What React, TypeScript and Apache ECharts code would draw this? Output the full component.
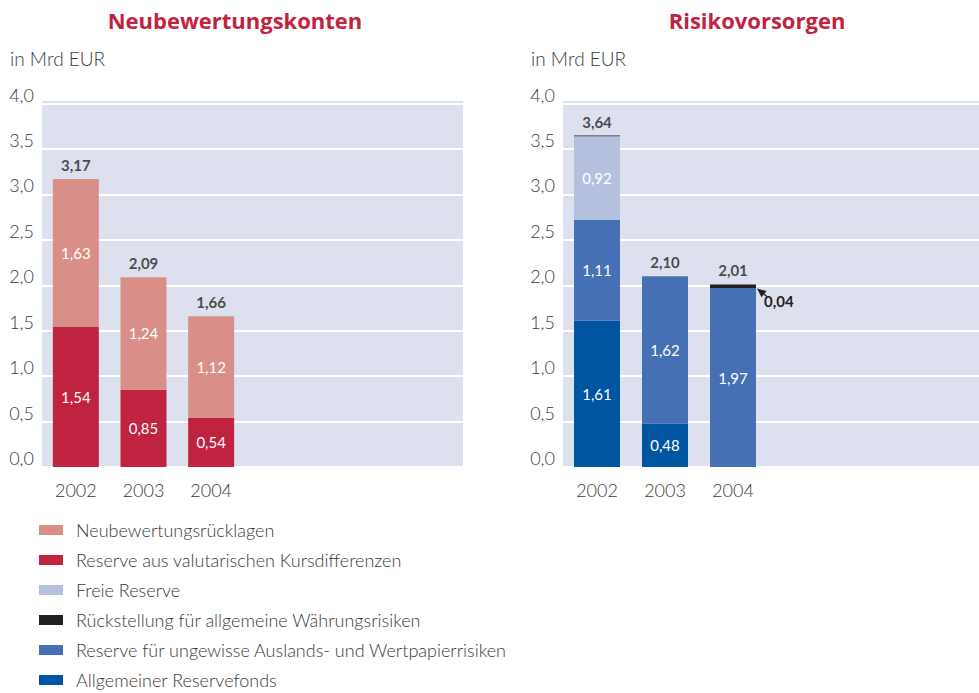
import React, { useEffect, useRef } from "react";
import * as echarts from "echarts";

const years = ["2002", "2003", "2004"];
// Neubewertungskonten
const valutarisch = [1.54, 0.85, 0.54];
const neubewertung = [1.63, 1.24, 1.12];
const totalsLeft = [3.17, 2.09, 1.66];
// Risikovorsorgen
const allgemein = [1.61, 0.48, 0];
const ungewisse = [1.11, 1.62, 1.97];
const freie = [0.92, 0, 0];
const rueckstellung = [0.01, 0, 0.04];
const totalsRight = [3.64, 2.1, 2.01];
// empty slots to the right of the bars
const emptySlots = ["", "", ""];

const C = {
  neu: "#d98f87",
  val: "#c0233f",
  freie: "#b5c0df",
  rueck: "#231f20",
  ungew: "#4570b3",
  allg: "#0055a1",
  bg: "#dde1ef",
  title: "#c1233f",
  text: "#3a3a3a",
};

const FONT = "Lato";
const fmt = (v: number) => v.toFixed(2).replace(".", ",");

export default function App() {
  const ref = useRef<HTMLDivElement>(null);
  useEffect(() => {
    if (!ref.current) return;
    const chart = echarts.init(ref.current, null, { renderer: "svg" });

    const Y_MAX = 4.04;
    const bgX = (gridIndex: number) => ({ type: "value", gridIndex, show: false, min: 0, max: 1 });
    const bgY = (gridIndex: number) => ({
      type: "value",
      gridIndex,
      min: 0,
      max: Y_MAX,
      interval: 0.5,
      axisLine: { show: false },
      axisTick: { show: false },
      splitLine: { show: true, lineStyle: { color: "#ffffff", width: 2 } },
      axisLabel: {
        margin: 8,
        fontFamily: FONT,
        fontWeight: 300,
        fontSize: 18,
        lineHeight: 18,
        color: C.text,
        verticalAlign: "bottom",
        formatter: (v: number) =>
          Math.abs(v * 2 - Math.round(v * 2)) < 1e-6 ? v.toFixed(1).replace(".", ",") : "",
      },
    });
    const barX = (gridIndex: number) => ({
      type: "category",
      gridIndex,
      data: [...years, ...emptySlots],
      axisLine: { show: false },
      axisTick: { show: false },
      splitLine: { show: false },
      axisLabel: {
        margin: 14,
        fontFamily: FONT,
        fontWeight: 300,
        fontSize: 18,
        color: C.text,
        interval: 0,
      },
    });
    const barY = (gridIndex: number) => ({
      type: "value",
      gridIndex,
      show: false,
      min: 0,
      max: Y_MAX,
      splitLine: { show: false },
    });

    const inside = {
      show: true,
      position: "inside",
      color: "#ffffff",
      fontFamily: FONT,
      fontSize: 15,
      formatter: (p: any) => (p.value > 0.05 ? fmt(p.value) : ""),
    };

    const bar = (name: string, vals: number[], color: string, idx: number, stack: string, label: any = inside) => ({
      type: "bar",
      name,
      xAxisIndex: idx,
      yAxisIndex: idx,
      stack,
      barWidth: 46,
      itemStyle: { color },
      label,
      emphasis: { disabled: true },
      data: vals.slice(),
    });

    const totals = (vals: number[], idx: number) => ({
      type: "scatter",
      xAxisIndex: idx,
      yAxisIndex: idx,
      symbolSize: 1,
      silent: true,
      itemStyle: { color: "transparent" },
      label: {
        show: true,
        position: "top",
        distance: 6,
        color: C.rueck,
        fontFamily: FONT,
        fontWeight: "bold",
        fontSize: 15,
        formatter: (p: any) => fmt(p.value),
      },
      data: vals.slice(),
    });

    const rueckSeries: any = bar("Rückstellung für allgemeine Währungsrisiken", rueckstellung, C.rueck, 3, "R", { show: false });
    rueckSeries.data = rueckstellung.map((v, i) =>
      i === 2
        ? {
            value: v,
            label: {
              show: true,
              position: [54, 9],
              color: C.rueck,
              fontFamily: FONT,
              fontWeight: "bold",
              fontSize: 15,
              formatter: fmt(v),
            },
          }
        : v
    );

    const option: any = {
      animation: false,
      grid: [
        { left: 42, right: 516, top: 100, bottom: 226, show: true, backgroundColor: C.bg, borderWidth: 0 },
        { left: 42, right: 531, top: 100, bottom: 226 },
        { left: 563, right: 0, top: 100, bottom: 226, show: true, backgroundColor: C.bg, borderWidth: 0 },
        { left: 563, right: 8, top: 100, bottom: 226 },
      ],
      xAxis: [bgX(0), barX(1), bgX(2), barX(3)],
      yAxis: [bgY(0), barY(1), bgY(2), barY(3)],
      legend: {
        orient: "vertical",
        left: 39,
        top: 520,
        padding: 0,
        itemWidth: 24,
        itemHeight: 10,
        itemGap: 10,
        icon: "rect",
        selectedMode: false,
        textStyle: {
          fontFamily: FONT,
          fontWeight: 300,
          fontSize: 18,
          lineHeight: 20,
          color: C.text,
          padding: [0, 0, 0, 8],
        },
        data: [
          "Neubewertungsrücklagen",
          "Reserve aus valutarischen Kursdifferenzen",
          "Freie Reserve",
          "Rückstellung für allgemeine Währungsrisiken",
          "Reserve für ungewisse Auslands- und Wertpapierrisiken",
          "Allgemeiner Reservefonds",
        ],
      },
      series: [
        bar("Reserve aus valutarischen Kursdifferenzen", valutarisch, C.val, 1, "L"),
        bar("Neubewertungsrücklagen", neubewertung, C.neu, 1, "L"),
        totals(totalsLeft, 1),
        bar("Allgemeiner Reservefonds", allgemein, C.allg, 3, "R"),
        bar("Reserve für ungewisse Auslands- und Wertpapierrisiken", ungewisse, C.ungew, 3, "R"),
        bar("Freie Reserve", freie, C.freie, 3, "R"),
        rueckSeries,
        totals(totalsRight, 3),
      ],
    };
    chart.setOption(option);

    // annotation arrow for the small 2004 value
    const top = ungewisse[2] + allgemein[2] + freie[2];
    const p = chart.convertToPixel({ xAxisIndex: 3, yAxisIndex: 3 }, [2, top]) as number[];
    const tip = [p[0] + 24, p[1] + 0.5];
    const tail = [tip[0] + 10, tip[1] + 8];
    const dx = tail[0] - tip[0], dy = tail[1] - tip[1];
    const len = Math.hypot(dx, dy);
    const ux = dx / len, uy = dy / len;
    const base = [tip[0] + ux * 9, tip[1] + uy * 9];
    const px = -uy, py = ux;

    const titleStyle = { fill: C.title, fontFamily: "Open Sans", fontWeight: "bold", fontSize: 22, align: "center", verticalAlign: "middle" };
    const unitStyle = { fill: C.text, fontFamily: FONT, fontWeight: 300, fontSize: 19, align: "left", verticalAlign: "middle" };
    chart.setOption({
      graphic: [
        { id: "t1", type: "text", x: 235, y: 20, style: { ...titleStyle, text: "Neubewertungskonten" } },
        { id: "t2", type: "text", x: 757, y: 20, style: { ...titleStyle, text: "Risikovorsorgen" } },
        { id: "u1", type: "text", x: 10, y: 58, style: { ...unitStyle, text: "in Mrd EUR" } },
        { id: "u2", type: "text", x: 531, y: 58, style: { ...unitStyle, text: "in Mrd EUR" } },
        {
          id: "ah",
          type: "polygon",
          shape: { points: [tip, [base[0] + px * 4, base[1] + py * 4], [base[0] - px * 4, base[1] - py * 4]] },
          style: { fill: C.rueck },
          z: 100,
        },
        {
          id: "al",
          type: "line",
          shape: { x1: base[0], y1: base[1], x2: tail[0], y2: tail[1] },
          style: { stroke: C.rueck, lineWidth: 1.2 },
          z: 100,
        },
      ],
    });

    return () => chart.dispose();
  }, []);

  return (
    <div
      ref={ref}
      style={{ position: "fixed", left: 0, top: 0, width: 979, height: 693, background: "#ffffff" }}
    />
  );
}
